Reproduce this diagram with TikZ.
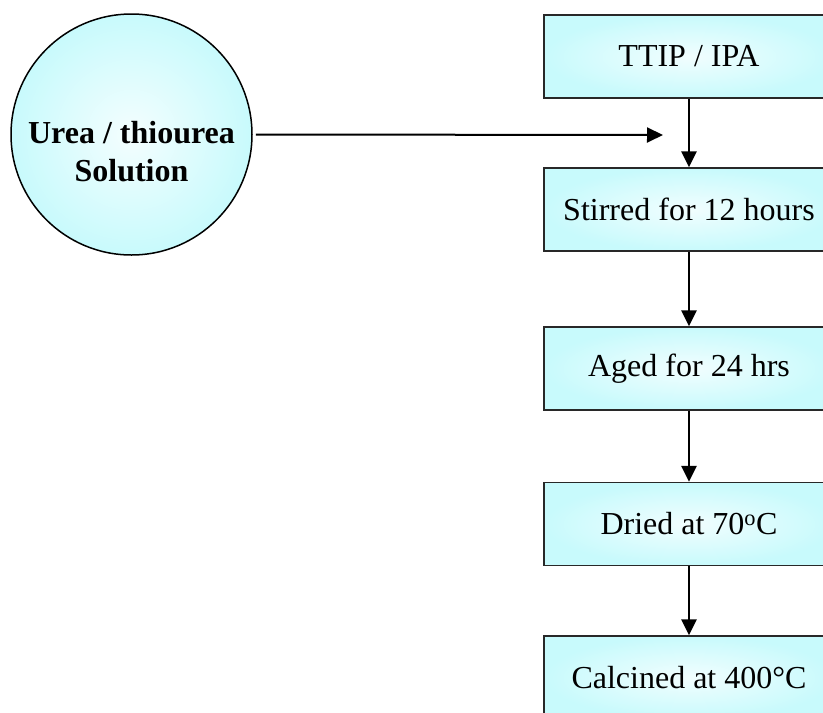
\documentclass[tikz,border=0pt]{standalone}
\usepackage{fontspec}
\setmainfont{Liberation Serif}
\usetikzlibrary{shapes,arrows.meta,positioning}
\definecolor{PaleCyan}{RGB}{200, 250, 252}
\definecolor{EdgeGrey}{RGB}{40, 40, 40}

\begin{document}
\begin{tikzpicture}[
    x=1pt, y=-1pt,
    step box/.style={rectangle, draw=EdgeGrey, line width=1.3pt, outer color=PaleCyan, inner color=PaleCyan!25, minimum width=290pt, minimum height=83pt, align=center, font=\fontsize{32}{38}\selectfont},
    source/.style={circle, draw=black, line width=1.5pt, outer color=PaleCyan, inner color=PaleCyan!20, minimum size=241pt},
    flow/.style={-{Triangle[width=15pt,length=16pt]}, line width=2.6pt, black},
    feed/.style={-{Triangle[width=15pt,length=16pt]}, line width=2pt, black}
]
\useasboundingbox (0,0) rectangle (823,713);
\clip (0,0) rectangle (823,713);

% Source solution
\node[source] (sol) at (131.5, 134.5) {};
\node[font=\fontsize{32}{38}\selectfont\bfseries, align=center] (soltext) at ([yshift=-17pt]sol.center) {Urea / thiourea\\Solution};

% Process steps
\node[step box] (ttip) at (689, 56.5) {TTIP / IPA};
\node[step box] (stir) at (689, 209.5) {Stirred for 12 hours};
\node[step box] (age) at (689, 368.5) {Aged for 24 hrs};
\node[step box] (dry) at (689, 524) {Dried at 70\textsuperscript{o}C};
\node[step box] (calc) at (689, 677.5) {Calcined at 400°C};

% Arrows
\coordinate (join) at (663, 135);
\draw[feed] ([xshift=3pt]sol.east) -- (join);
\draw[flow] (ttip) -- (stir);
\draw[flow] (stir) -- (age);
\draw[flow] (age) -- (dry);
\draw[flow] (dry) -- (calc);

\end{tikzpicture}
\end{document}
